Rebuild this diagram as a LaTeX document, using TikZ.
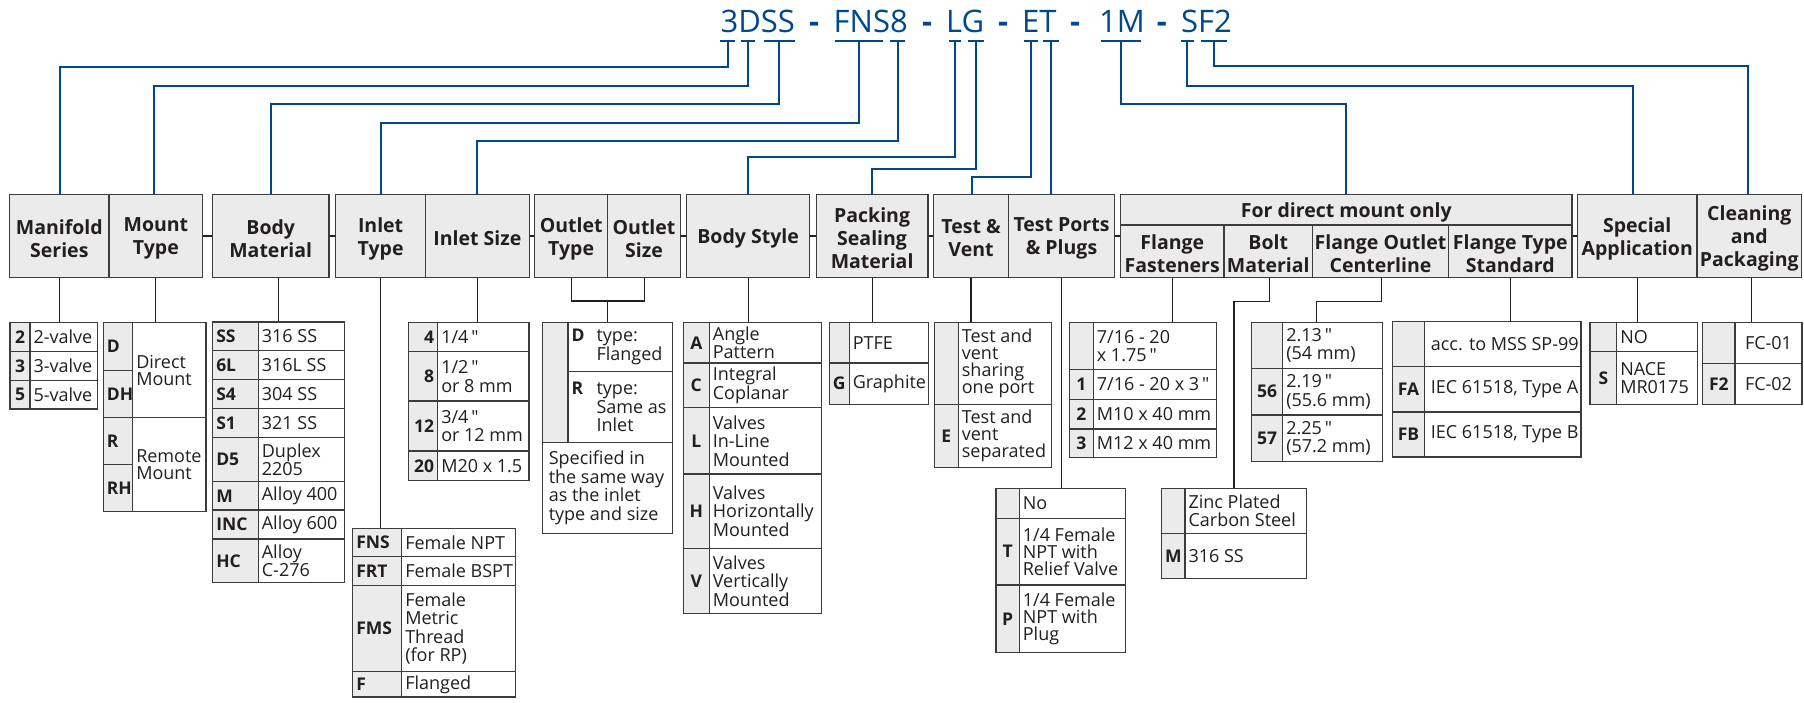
\documentclass[tikz,border=0pt]{standalone}
\usepackage{fontspec}
\setmainfont{Open Sans}
\newfontfamily\quotefont{Open Sans}
\usetikzlibrary{fit,calc}
\definecolor{codeblue}{RGB}{0,72,140}
\definecolor{cellgray}{RGB}{235,235,235}
\definecolor{edge}{RGB}{60,60,60}
\definecolor{ink}{RGB}{35,31,32}
\newcommand\hdrfont{\fontsize{19.5}{23}\selectfont\bfseries}
\newcommand\codefont{\fontsize{17.5}{18.5}\selectfont\bfseries}
\newcommand\cellfont{\fontsize{18}{18.5}\selectfont}
\newcommand\titlefont{\fontsize{31}{31}\selectfont}
\newcommand\txtanc{west}
\newcommand\inchmark{\,{\quotefont "}}
\tikzset{
  hdr/.style={draw=edge, fill=cellgray, line width=1.3pt, inner sep=0pt},
  hdrtxt/.style={font=\hdrfont, text=ink, align=center, inner sep=0pt},
  codecell/.style={draw=edge, fill=cellgray, line width=1.3pt, inner sep=0pt},
  txtcell/.style={draw=edge, fill=white, line width=1.3pt, inner sep=0pt},
  codetxt/.style={font=\codefont, text=ink, inner xsep=4pt, inner ysep=0pt},
  celltxt/.style={font=\cellfont, text=ink, align=left, inner xsep=4pt, inner ysep=0pt},
  ln/.style={draw=ink, line width=1.1pt},
  bl/.style={draw=codeblue, line width=2pt},
  codebar/.style={draw=codeblue, line width=2pt},
  titletxt/.style={font=\titlefont, text=codeblue, inner sep=0pt, anchor=base west},
}
% header box: #1 name, #2 x0, #3 y0, #4 x1, #5 y1, #6 text
\newcommand\hdrbox[6]{%
  \node[hdr, fit={(#2,#3) (#4,#5)}] (#1) {};
  \node[hdrtxt] (#1x) at ([yshift=-2.5pt]#1.center) {#6};
}
% #1 code anchor, #2 name, #3 x0, #4 xdiv, #5 x1, #6 y0, #7 y1, #8 code, #9 text
\newcommand\trow[9][center]{%
  \node[codecell, fit={(#3,#6) (#4,#7)}] (#2c) {};
  \node[txtcell, fit={(#4,#6) (#5,#7)}] (#2t) {};
  \node[codetxt, anchor=#1] (#2k) at (#2c.#1) {#8};
  \node[celltxt, anchor=\txtanc] (#2x) at (#2t.\txtanc) {#9};
}
\newcommand\codetick[3]{\draw[codebar] (#2,40.7) -- coordinate (#1) (#3,40.7);}
\begin{document}
\begin{tikzpicture}[x=1pt,y=-1pt]
\useasboundingbox (0,0) rectangle (1804,702);

% ---------- title code ----------
\node[titletxt] (t1) at (720.4,32.3) {3DSS};
\node[titletxt] (d1) at (809,32.3) {\bfseries -};
\node[titletxt] (t2) at (833.5,32.3) {FNS8};
\node[titletxt] (d2) at (922,32.3) {\bfseries -};
\node[titletxt] (t3) at (946,32.3) {LG};
\node[titletxt] (d3) at (998,32.3) {\bfseries -};
\node[titletxt] (t4) at (1022,32.3) {ET};
\node[titletxt] (d4) at (1070,32.3) {\bfseries -};
\node[titletxt] (t5) at (1099,32.3) {1M};
\node[titletxt] (d5) at (1156.6,32.3) {\bfseries -};
\node[titletxt] (t6) at (1181,32.3) {SF2};

\codetick{k3}{720.4}{734.8}
\codetick{kD}{740.5}{755}
\codetick{kSS}{763.5}{795}
\codetick{kFNS}{835}{883}
\codetick{k8}{890}{905}
\codetick{kL}{949}{960.5}
\codetick{kG}{968}{983.6}
\codetick{kE}{1024}{1038}
\codetick{kT}{1043}{1058.5}
\codetick{k1M}{1100.6}{1141}
\codetick{kS}{1180.8}{1194}
\codetick{kF2}{1201}{1227}

% ---------- header boxes ----------
\hdrbox{hMS}{9.6}{194.5}{109}{277.5}{Manifold\\Series}
\hdrbox{hMT}{109}{194.5}{202.8}{277.5}{Mount\\Type}
\hdrbox{hBM}{212.4}{194.5}{329}{277.5}{Body\\Material}
\hdrbox{hIT}{335.6}{194.5}{425.6}{277.5}{Inlet\\Type}
\hdrbox{hIS}{425.6}{194.5}{529.3}{277.5}{Inlet Size}
\hdrbox{hOT}{534.6}{194.5}{607.7}{277.5}{Outlet\\Type}
\hdrbox{hOS}{607.7}{194.5}{680.4}{277.5}{Outlet\\Size}
\hdrbox{hBS}{686.5}{194.5}{809.7}{277.5}{Body Style}
\hdrbox{hPK}{816.2}{194.5}{928}{277.5}{Packing\\Sealing\\Material}
\hdrbox{hTV}{933.7}{194.5}{1008.3}{277.5}{Test \&\\Vent}
\hdrbox{hTP}{1008.3}{194.5}{1114.7}{277.5}{Test Ports\\\& Plugs}
\hdrbox{hDM}{1120.5}{194.5}{1572}{225}{For direct mount only}
\hdrbox{hFF}{1120.5}{225}{1224}{277.5}{Flange\\Fasteners}
\hdrbox{hBO}{1224}{225}{1312.5}{277.5}{Bolt\\Material}
\hdrbox{hFO}{1312.5}{225}{1448.5}{277.5}{Flange Outlet\\Centerline}
\hdrbox{hFT}{1448.5}{225}{1572}{277.5}{Flange Type\\Standard}
\hdrbox{hSA}{1577.5}{194.5}{1697}{277.5}{Special\\Application}
\hdrbox{hCP}{1697}{194.5}{1801.5}{277.5}{Cleaning\\and\\Packaging}

% links between header groups
\draw[ln] (hMT.east) -- (hBM.west);
\draw[ln] (hBM.east) -- (hIT.west);
\draw[ln] (hIS.east) -- (hOT.west);
\draw[ln] (hOS.east) -- (hBS.west);
\draw[ln] (hBS.east) -- (hPK.west);
\draw[ln] (hPK.east) -- (hTV.west);
\draw[ln] (hTP.east) -- (hTP.east -| hFF.west);
\draw[ln] (hSA.west -| hFT.east) -- (hSA.west);

% ---------- blue connectors ----------
\draw[bl] (k3) -- ++(0,25.8) -| ([xshift=1pt]hMS.north);
\draw[bl] (kD) -- ++(0,44.8) -| ([xshift=-2pt]hMT.north);
\draw[bl] (kSS) -- ++(0,63.3) -| (hBM.north);
\draw[bl] (kFNS) -- ++(0,81.8) -| (hIT.north);
\draw[bl] (k8) -- ++(0,100.6) -| (hIS.north);
\draw[bl] (kL) -- ++(0,116) -| (hBS.north);
\draw[bl] (kG) -- ++(0,127.8) -| (hPK.north);
\draw[bl] (kE) -- ++(0,136.6) -| ([xshift=1pt]hTV.north);
\draw[bl] (kT) -- (kT |- hTP.north);
\draw[bl] (k1M) -- ++(0,63.3) -| (hDM.north);
\draw[bl] (kS) -- ++(0,45.3) -| ([xshift=-4pt]hSA.north);
\draw[bl] (kF2) -- ++(0,25.6) -| ([xshift=-1pt]hCP.north);

% ---------- tables ----------
% Manifold series
\trow{ms1}{10}{30}{97.3}{322.7}{351.7}{2}{2-valve}
\trow{ms2}{10}{30}{97.3}{351.7}{380.3}{3}{3-valve}
\trow{ms3}{10}{30}{97.3}{380.3}{409}{5}{5-valve}

% Mount type (merged text cells)
\node[codecell, fit={(103.3,322.7) (132.7,370.3)}] (mt1c) {};
\node[codecell, fit={(103.3,370.3) (132.7,417.3)}] (mt2c) {};
\node[codecell, fit={(103.3,417.3) (132.7,464.7)}] (mt3c) {};
\node[codecell, fit={(103.3,464.7) (132.7,511.7)}] (mt4c) {};
\node[txtcell, fit={(132.7,322.7) (206,417.3)}] (mtAt) {};
\node[txtcell, fit={(132.7,417.3) (206,511.7)}] (mtBt) {};
\node[codetxt, anchor=west] (mt1k) at (mt1c.west) {D};
\node[codetxt, anchor=west] (mt2k) at (mt2c.west) {DH};
\node[codetxt, anchor=west] (mt3k) at (mt3c.west) {R};
\node[codetxt, anchor=west] (mt4k) at (mt4c.west) {RH};
\node[celltxt, anchor=west] (mtAx) at (mtAt.west) {Direct\\[-1.5pt]Mount};
\node[celltxt, anchor=west] (mtBx) at (mtBt.west) {Remote\\[-1.5pt]Mount};

% Body material
\trow[west]{bm1}{212.7}{258.3}{344.3}{322}{350.7}{SS}{316 SS}
\trow[west]{bm2}{212.7}{258.3}{344.3}{350.7}{379.3}{6L}{316L SS}
\trow[west]{bm3}{212.7}{258.3}{344.3}{379.3}{408.3}{S4}{304 SS}
\trow[west]{bm4}{212.7}{258.3}{344.3}{408.3}{437.3}{S1}{321 SS}
\trow[west]{bm5}{212.7}{258.3}{344.3}{437.3}{481.7}{D5}{Duplex\\2205}
\trow[west]{bm6}{212.7}{258.3}{344.3}{481.7}{510}{M}{Alloy 400}
\trow[west]{bm7}{212.7}{258.3}{344.3}{510}{539}{INC}{Alloy 600}
\trow[west]{bm8}{212.7}{258.3}{344.3}{539}{582.7}{HC}{Alloy\\C-276}

% Inlet type
\trow[west]{it1}{352.7}{401.7}{515.7}{528.3}{556.7}{FNS}{Female NPT}
\trow[west]{it2}{352.7}{401.7}{515.7}{556.7}{585.7}{FRT}{Female BSPT}
\trow[west]{it3}{352.7}{401.7}{515.7}{585.7}{671.7}{FMS}{Female\\Metric\\Thread\\(for RP)}
\trow[west]{it4}{352.7}{401.7}{515.7}{671.7}{697}{F}{Flanged}

% Inlet size
\trow[east]{is1}{408.3}{437.7}{529}{322.7}{351.7}{4}{1/4\inchmark}
\trow[east]{is2}{408.3}{437.7}{529}{351.7}{401}{8}{1/2\inchmark\\or 8 mm}
\trow[east]{is3}{408.3}{437.7}{529}{401}{451}{12}{3/4\inchmark\\or 12 mm}
\trow[east]{is4}{408.3}{437.7}{529}{451}{480.7}{20}{M20 x 1.5}

% Outlet type / size
\node[codecell, fit={(542.7,322.7) (568,442.7)}] (ot0) {};
\node[txtcell, fit={(568,322.7) (672.7,371.3)}] (ot1) {};
\node[txtcell, fit={(568,371.3) (672.7,442.7)}] (ot2) {};
\node[txtcell, fit={(542.7,442.7) (672.7,533.3)}] (ot3) {};
\node[celltxt, anchor=west] (ot1x) at (ot1.west) {\makebox[25pt][l]{\codefont D}type:\\\hspace*{25pt}Flanged};
\node[celltxt, anchor=west] (ot2x) at (ot2.west) {\makebox[25pt][l]{\codefont R}type:\\\hspace*{25pt}Same as\\\hspace*{25pt}Inlet};
\node[celltxt, anchor=west] (ot3x) at ([xshift=2.5pt]ot3.west) {Specified in\\the same way\\as the inlet\\type and size};

% Body style
\trow{bs1}{683.3}{709.3}{821.7}{322.7}{363}{A}{Angle\\Pattern}
\trow{bs2}{683.3}{709.3}{821.7}{363}{407.7}{C}{Integral\\Coplanar}
\trow{bs3}{683.3}{709.3}{821.7}{407.7}{474}{L}{Valves\\In-Line\\Mounted}
\trow{bs4}{683.3}{709.3}{821.7}{474}{548.3}{H}{Valves\\Horizontally\\Mounted}
\trow{bs5}{683.3}{709.3}{821.7}{548.3}{613.3}{V}{Valves\\Vertically\\Mounted}

% Packing
\trow{pk1}{829.3}{849.3}{928.3}{322.7}{363}{}{PTFE}
\trow{pk2}{829.3}{849.3}{928.3}{363}{404.3}{G}{Graphite}

% Test & vent
\trow{tv1}{934.3}{958.3}{1051.7}{322.7}{404.3}{}{Test and\\[-1.5pt]vent\\[-1.5pt]sharing\\[-1.5pt]one port}
\trow{tv2}{934.3}{958.3}{1051.7}{404.3}{467.3}{E}{Test and\\[-1.5pt]vent\\[-1.5pt]separated}

% Test ports
\trow{tp1}{996}{1019.3}{1125.7}{488.3}{518.3}{}{No}
\trow{tp2}{996}{1019.3}{1125.7}{518.3}{585}{T}{1/4 Female\\[-1.5pt]NPT with\\[-1.5pt]Relief Valve}
\trow{tp3}{996}{1019.3}{1125.7}{585}{652.7}{P}{1/4 Female\\[-1.5pt]NPT with\\[-1.5pt]Plug}

% Flange fasteners
\trow{ff1}{1069.3}{1093.3}{1216.7}{322.7}{369.3}{}{7/16 - 20\\x 1.75\inchmark}
\trow{ff2}{1069.3}{1093.3}{1216.7}{369.3}{399.3}{1}{7/16 - 20 x 3\inchmark}
\trow{ff3}{1069.3}{1093.3}{1216.7}{399.3}{429}{2}{M10 x 40 mm}
\trow{ff4}{1069.3}{1093.3}{1216.7}{429}{457.7}{3}{M12 x 40 mm}

% Bolt material
\trow{bo1}{1161.7}{1185}{1306.7}{488.3}{533.3}{}{Zinc Plated\\Carbon Steel}
\trow{bo2}{1161.7}{1185}{1306.7}{533.3}{578.3}{M}{316 SS}

% Flange outlet centerline
\trow{fo1}{1251.7}{1282.7}{1382.3}{322.7}{368.3}{}{2.13\inchmark\\(54 mm)}
\trow{fo2}{1251.7}{1282.7}{1382.3}{368.3}{415}{56}{2.19\inchmark\\(55.6 mm)}
\trow{fo3}{1251.7}{1282.7}{1382.3}{415}{461.7}{57}{2.25\inchmark\\(57.2 mm)}

% Flange type standard
\trow{ft1}{1392.7}{1424.3}{1581}{321.7}{366.7}{}{\hspace*{3pt}acc. to MSS SP-99}
\trow{ft2}{1392.7}{1424.3}{1581}{366.7}{412}{FA}{\hspace*{3pt}IEC 61518, Type A}
\trow{ft3}{1392.7}{1424.3}{1581}{412}{457}{FB}{\hspace*{3pt}IEC 61518, Type B}

% Special application
\trow{sa1}{1590}{1616.7}{1697.3}{322.7}{351.7}{}{NO}
\trow{sa2}{1590}{1616.7}{1697.3}{351.7}{404.3}{S}{NACE\\MR0175}

% Cleaning and packaging
\begin{scope}
\renewcommand\txtanc{center}
\trow{cp1}{1702.7}{1735}{1802}{322.7}{363.3}{}{FC-01}
\trow{cp2}{1702.7}{1735}{1802}{363.3}{404.3}{F2}{FC-02}
\end{scope}

% ---------- black connectors header -> table ----------
\draw[ln] (hMS.south) -- (hMS.south |- ms1c.north);
\draw[ln] (hMT.south) -- (hMT.south |- mt1c.north);
\coordinate (bmx) at ([xshift=8pt]hBM.south);
\draw[ln] (bmx) -- (bmx |- bm1c.north);
\draw[ln] (hIT.south) -- (hIT.south |- it1c.north);
\draw[ln] (hIS.south) -- (hIS.south |- is1c.north);
\coordinate (obr) at (607.5,301);
\draw[ln] (hOT.south) |- (obr) -| (hOS.south);
\draw[ln] (obr) -- (obr |- ot0.north);
\draw[ln] (hBS.south) -- (hBS.south |- bs1c.north);
\draw[ln] (hPK.south) -- (hPK.south |- pk1c.north);
\draw[ln] (hTV.south) -- (hTV.south |- tv1c.north);
\draw[ln] (hTP.south) -- (hTP.south |- tp1c.north);
\draw[ln] (hFF.south) -- (hFF.south |- ff1c.north);
\coordinate (bbr) at (1234,301.7);
\draw[ln] ([xshift=1pt]hBO.south) |- (bbr) -- (bbr |- bo1c.north);
\coordinate (fbr) at (1316.7,301.7);
\draw[ln] ([xshift=1pt]hFO.south) |- (fbr) -- (fbr |- fo1c.north);
\draw[ln] (hFT.south) -- (hFT.south |- ft1c.north);
\draw[ln] (hSA.south) -- (hSA.south |- sa1c.north);
\coordinate (cpx) at ([xshift=2pt]hCP.south);
\draw[ln] (cpx) -- (cpx |- cp1c.north);
\end{tikzpicture}
\end{document}
